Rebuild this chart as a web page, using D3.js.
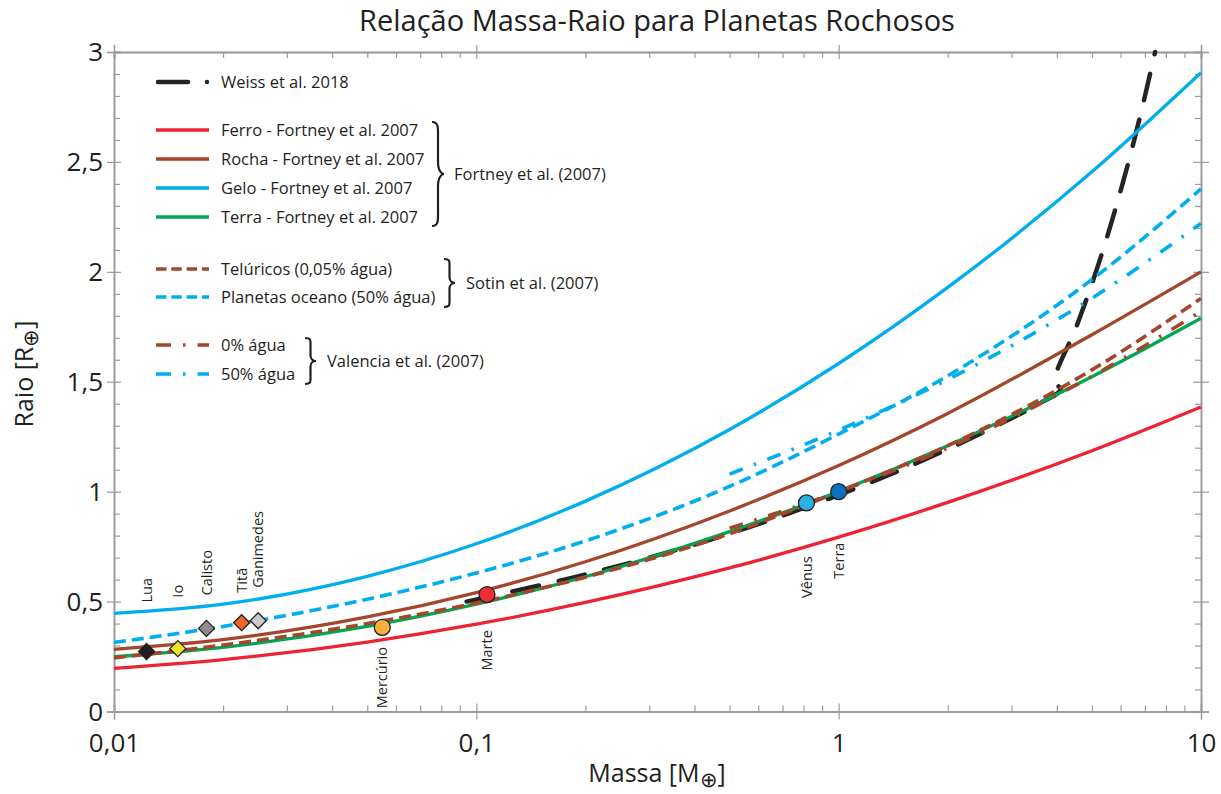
<!DOCTYPE html>
<html>
<head>
<meta charset="utf-8">
<script src="https://cdn.jsdelivr.net/npm/d3@7"></script>
<style>
  body { margin: 0; background: #ffffff; }
  svg { display: block; font-family: "Open Sans", "Noto Sans", sans-serif; }
</style>
</head>
<body>
<svg id="chart" width="1221" height="794"></svg>
<script>
// ---------- data (mass in Earth masses, radius in Earth radii) ----------
const massGrid = [0.01, 0.02, 0.05, 0.1, 0.2, 0.5, 1, 2, 5, 10];

// Fortney et al. (2007)
const ferro = [0.196, 0.236, 0.316, 0.397, 0.496, 0.653, 0.793, 0.951, 1.186, 1.385];
const rocha = [0.283, 0.327, 0.430, 0.541, 0.681, 0.912, 1.119, 1.356, 1.714, 2.000];
const gelo  = [0.446, 0.488, 0.615, 0.763, 0.957, 1.283, 1.583, 1.929, 2.455, 2.906];
const terra = [0.249, 0.292, 0.387, 0.488, 0.613, 0.818, 1.001, 1.209, 1.523, 1.789];

// Sotin et al. (2007)
const teluricos = [0.244, 0.302, 0.400, 0.494, 0.611, 0.809, 1.000, 1.209, 1.554, 1.879];
const oceano    = [0.314, 0.387, 0.511, 0.630, 0.776, 1.024, 1.262, 1.527, 1.965, 2.377];

// Valencia et al. (2007)
const valenciaMass = [0.5, 1, 2, 5, 10];
const agua0  = [0.834, 1.000, 1.199, 1.525, 1.820];
const agua50 = [1.080, 1.280, 1.510, 1.880, 2.220];

// Weiss et al. 2018
const weissMass   = [0.094, 0.175, 0.30, 0.48, 0.725, 1.056, 1.49, 2.04, 2.73, 3.57, 4.10, 3.95, 4.53, 5.13, 5.72, 6.31, 6.89, 7.47];
const weissRadius = [0.50, 0.60, 0.70, 0.80, 0.90, 1.00, 1.10, 1.20, 1.30, 1.40, 1.465, 1.50, 1.75, 2.00, 2.25, 2.50, 2.75, 3.00];

// Solar-system bodies
const bodyNames  = ["Lua", "Io", "Calisto", "Titã", "Ganimedes", "Mercúrio", "Marte", "Vênus", "Terra"];
const bodyMass   = [0.0123, 0.015, 0.018, 0.0225, 0.025, 0.055, 0.107, 0.815, 1.0];
const bodyRadius = [0.273, 0.286, 0.378, 0.404, 0.413, 0.383, 0.532, 0.949, 1.0];
const bodyIsMoon = [true, true, true, true, true, false, false, false, false];

// Axis ticks
const xTickValues = [0.01, 0.1, 1, 10];
const xTickLabels = ["0,01", "0,1", "1", "10"];
const yTickValues = [0, 0.5, 1, 1.5, 2, 2.5, 3];
const yTickLabels = ["0", "0,5", "1", "1,5", "2", "2,5", "3"];

// ---------- styles ----------
const RED = "#ed2233", BROWN = "#a4462b", BLUE = "#00aeef", GREEN = "#00a651", BLACK = "#262324";
const INK = "#231f20", AXIS = "#9b9b9b";
const bodyFill = ["#231f20", "#e9e32c", "#8c8c8c", "#f26522", "#c9c9c9", "#fbb03b", "#ee2d3b", "#29b1e6", "#0a72bc"];
// label start offset (px) from the marker, text runs upward
const bodyLabelOffset = [-49, -51, -33, -30, -33, 81, 76, 95, 87];

const svg = d3.select("#chart");
const x = d3.scaleLog().domain([0.01, 10]).range([114, 1201]);
const y = d3.scaleLinear().domain([0, 3]).range([711.5, 52]);

// ---------- axes (box with ticks on all four sides) ----------
const xMinor = x.ticks().filter(v => !xTickValues.some(t => Math.abs(t - v) < 1e-9));
const yMinor = d3.range(0, 31).map(i => i / 10).filter(v => Math.abs(v * 2 - Math.round(v * 2)) > 1e-9);

function styleAxis(g) {
  g.select(".domain").attr("stroke", AXIS).attr("stroke-width", 1.4);
  g.selectAll(".tick line").attr("stroke", AXIS).attr("stroke-width", 1.2);
  g.selectAll(".tick text").attr("fill", INK).style("font-size", "26px")
    .style("font-family", '"Open Sans", sans-serif');
}
function addAxis(gen, tx, ty) {
  const g = svg.append("g").attr("transform", `translate(${tx},${ty})`).call(gen);
  styleAxis(g);
  return g;
}
const fmt = (vals, labels) => v => labels[vals.findIndex(t => Math.abs(t - v) < 1e-9)];
const none = () => "";

// bottom
addAxis(d3.axisBottom(x).tickValues(xMinor).tickSize(-6).tickFormat(none), 0, y(0));
addAxis(d3.axisBottom(x).tickValues(xTickValues).tickSize(-8).tickFormat(none), 0, y(0));
addAxis(d3.axisBottom(x).tickValues(xTickValues).tickSize(8).tickPadding(14).tickFormat(fmt(xTickValues, xTickLabels)), 0, y(0));
// top
addAxis(d3.axisTop(x).tickValues(xMinor).tickSize(-6).tickFormat(none), 0, y(3));
addAxis(d3.axisTop(x).tickValues(xTickValues).tickSize(7).tickFormat(none), 0, y(3));
addAxis(d3.axisTop(x).tickValues(xTickValues).tickSize(-7).tickFormat(none), 0, y(3));
// left
addAxis(d3.axisLeft(y).tickValues(yMinor).tickSize(-6).tickFormat(none), x(0.01), 0);
addAxis(d3.axisLeft(y).tickValues(yTickValues).tickSize(-7).tickFormat(none), x(0.01), 0);
const yl = addAxis(d3.axisLeft(y).tickValues(yTickValues).tickSize(7).tickPadding(4).tickFormat(fmt(yTickValues, yTickLabels)), x(0.01), 0);
yl.selectAll(".tick text").attr("dy", "0.34em");
// right
addAxis(d3.axisRight(y).tickValues(yMinor).tickSize(-6).tickFormat(none), x(10), 0);
addAxis(d3.axisRight(y).tickValues(yTickValues).tickSize(8).tickFormat(none), x(10), 0);
addAxis(d3.axisRight(y).tickValues(yTickValues).tickSize(-8).tickFormat(none), x(10), 0);

// ---------- curves ----------
const smooth = d3.line().x(d => x(d[0])).y(d => y(d[1])).curve(d3.curveMonotoneX);
const pairs = (ms, rs) => ms.map((m, i) => [m, rs[i]]);

const plot = svg.append("g");

// Weiss et al. 2018 (drawn beneath the model curves)
plot.append("path")
  .attr("d", d3.line().x(d => x(d[0])).y(d => y(d[1])).curve(d3.curveCatmullRom.alpha(0.5))(pairs(weissMass, weissRadius)))
  .attr("fill", "none").attr("stroke", BLACK).attr("stroke-width", 4.5)
  .attr("stroke-linecap", "round").attr("stroke-dasharray", "27,20");

const solidSeries = [
  { v: ferro, c: RED },
  { v: rocha, c: BROWN },
  { v: gelo,  c: BLUE },
  { v: terra, c: GREEN }
];
solidSeries.forEach(s => {
  plot.append("path").attr("d", smooth(pairs(massGrid, s.v)))
    .attr("fill", "none").attr("stroke", s.c).attr("stroke-width", 3.3);
});

const dashedSeries = [
  { v: teluricos, c: BROWN },
  { v: oceano,    c: BLUE }
];
dashedSeries.forEach(s => {
  plot.append("path").attr("d", smooth(pairs(massGrid, s.v)))
    .attr("fill", "none").attr("stroke", s.c).attr("stroke-width", 3.6)
    .attr("stroke-dasharray", "12,6");
});

const dashDotSeries = [
  { v: agua0,  c: BROWN },
  { v: agua50, c: BLUE }
];
dashDotSeries.forEach(s => {
  plot.append("path").attr("d", smooth(pairs(valenciaMass, s.v)))
    .attr("fill", "none").attr("stroke", s.c).attr("stroke-width", 3.6)
    .attr("stroke-dasharray", "14,12,2.5,12");
});

// ---------- bodies ----------
const bodies = bodyNames.map((n, i) => ({ n, m: bodyMass[i], r: bodyRadius[i], moon: bodyIsMoon[i], f: bodyFill[i], off: bodyLabelOffset[i] }));
const bg = svg.append("g");
bodies.forEach(b => {
  const cx = x(b.m), cy = y(b.r);
  if (b.moon) {
    const s = 8;
    bg.append("path").attr("d", `M${cx},${cy - s}L${cx + s},${cy}L${cx},${cy + s}L${cx - s},${cy}Z`)
      .attr("fill", b.f).attr("stroke", INK).attr("stroke-width", 1.3);
  } else {
    bg.append("circle").attr("cx", cx).attr("cy", cy).attr("r", 8)
      .attr("fill", b.f).attr("stroke", INK).attr("stroke-width", 1.3);
  }
  bg.append("text").attr("transform", `translate(${cx},${cy + b.off}) rotate(-90)`)
    .attr("dy", "0.35em").attr("fill", INK).style("font-size", "14.5px").text(b.n);
});

// ---------- legend ----------
const lg = svg.append("g").style("font-size", "16.5px").attr("fill", INK);
const lx0 = 156, lx1 = 209, tx = 221;
function legendText(t, yy) {
  lg.append("text").attr("x", tx).attr("y", yy).attr("dy", "0.35em").text(t);
}
// Weiss: long dash followed by a dot
lg.append("line").attr("x1", 158).attr("x2", 188).attr("y1", 82).attr("y2", 82)
  .attr("stroke", BLACK).attr("stroke-width", 4.5).attr("stroke-linecap", "round");
lg.append("circle").attr("cx", 207).attr("cy", 82).attr("r", 2.2).attr("fill", BLACK);
legendText("Weiss et al. 2018", 82);

const legendRows = [
  { t: "Ferro - Fortney et al. 2007", y: 130, c: RED, d: null },
  { t: "Rocha - Fortney et al. 2007", y: 159, c: BROWN, d: null },
  { t: "Gelo - Fortney et al. 2007", y: 188, c: BLUE, d: null },
  { t: "Terra - Fortney et al. 2007", y: 217, c: GREEN, d: null },
  { t: "Telúricos (0,05% água)", y: 269, c: BROWN, d: "10.5,4.8" },
  { t: "Planetas oceano (50% água)", y: 297, c: BLUE, d: "10.5,4.8" },
  { t: "0% água", y: 345, c: BROWN, d: "15,12,2.5,12" },
  { t: "50% água", y: 374, c: BLUE, d: "15,12,2.5,12" }
];
legendRows.forEach(r => {
  const l = lg.append("line").attr("x1", lx0).attr("x2", lx1).attr("y1", r.y).attr("y2", r.y)
    .attr("stroke", r.c).attr("stroke-width", r.d ? 3.6 : 3.3);
  if (r.d) l.attr("stroke-dasharray", r.d);
  legendText(r.t, r.y);
});

// curly braces grouping the sources
function brace(x0, y0, y1, w) {
  const xm = x0 + w * 0.5, ym = (y0 + y1) / 2, h = y1 - y0;
  return `M${x0},${y0} C${xm + 1},${y0} ${xm},${y0 + h * 0.06} ${xm},${y0 + h * 0.16}` +
    ` L${xm},${ym - h * 0.12} C${xm},${ym - h * 0.03} ${x0 + w * 0.8},${ym} ${x0 + w},${ym}` +
    ` C${x0 + w * 0.8},${ym} ${xm},${ym + h * 0.03} ${xm},${ym + h * 0.12}` +
    ` L${xm},${y1 - h * 0.16} C${xm},${y1 - h * 0.06} ${xm + 1},${y1} ${x0},${y1}`;
}
const braces = [
  { x0: 432, y0: 122, y1: 226, w: 12, t: "Fortney et al. (2007)", tx: 454 },
  { x0: 444, y0: 259, y1: 307, w: 11, t: "Sotin et al. (2007)", tx: 466 },
  { x0: 305, y0: 338, y1: 384, w: 11, t: "Valencia et al. (2007)", tx: 327 }
];
braces.forEach(b => {
  lg.append("path").attr("d", brace(b.x0, b.y0, b.y1, b.w))
    .attr("fill", "none").attr("stroke", INK).attr("stroke-width", 2.2);
  lg.append("text").attr("x", b.tx).attr("y", (b.y0 + b.y1) / 2).attr("dy", "0.35em").text(b.t);
});

// ---------- titles ----------
svg.append("text").attr("x", 657).attr("y", 31).attr("text-anchor", "middle")
  .attr("fill", INK).style("font-size", "29px").text("Relação Massa-Raio para Planetas Rochosos");

const xt = svg.append("text").attr("x", 657).attr("y", 782).attr("text-anchor", "middle")
  .attr("fill", INK).style("font-size", "25px");
xt.append("tspan").text("Massa [M");
xt.append("tspan").attr("dy", 5).style("font-size", "21px").text("⊕");
xt.append("tspan").attr("dy", -5).text("]");

const ytl = svg.append("text").attr("transform", "translate(33,374) rotate(-90)").attr("text-anchor", "middle")
  .attr("fill", INK).style("font-size", "25px");
ytl.append("tspan").text("Raio [R");
ytl.append("tspan").attr("dy", 5).style("font-size", "21px").text("⊕");
ytl.append("tspan").attr("dy", -5).text("]");
</script>
</body>
</html>
